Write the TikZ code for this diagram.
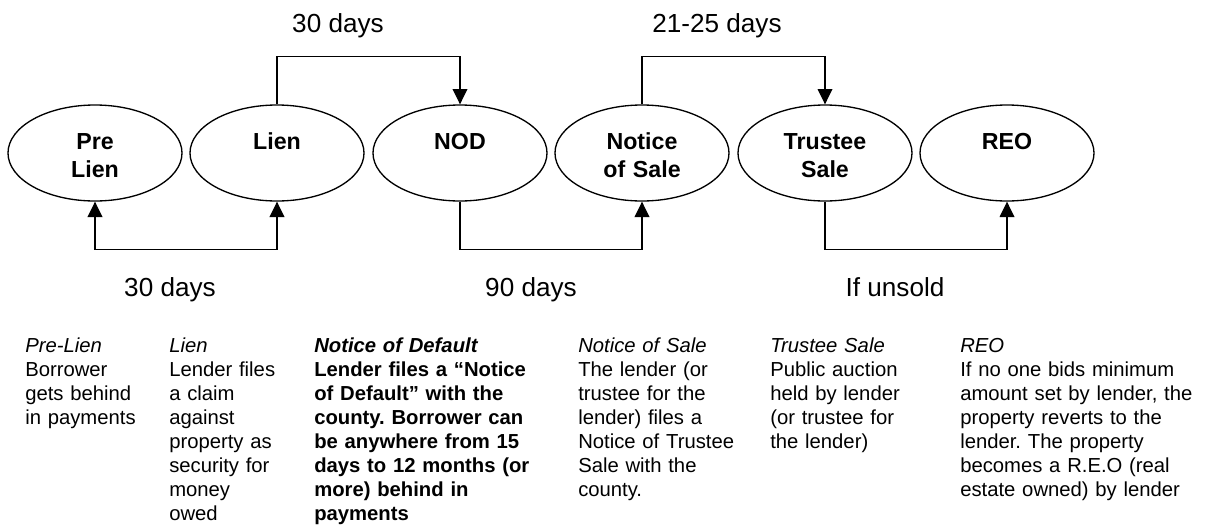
\documentclass[tikz,border=0pt]{standalone}
\usepackage{fontspec}
\setmainfont{Liberation Sans}
\usetikzlibrary{shapes.geometric,arrows.meta}
\frenchspacing

\begin{document}
\begin{tikzpicture}[x=0.75pt,y=-0.75pt,
  stage/.style={draw, line width=1pt, ellipse, minimum width=130.5pt,
    minimum height=72pt, inner sep=0pt},
  stagetext/.style={font=\fontsize{17.4}{21}\selectfont\bfseries,
    text width=120pt, align=center, anchor=base, inner sep=0pt},
  flow/.style={line width=1pt, -{Triangle[length=11.5pt,width=11pt]}},
  flowboth/.style={line width=1pt, {Triangle[length=11.5pt,width=11pt]}-{Triangle[length=11.5pt,width=11pt]}},
  gap/.style={font=\fontsize{19.6}{23}\selectfont, anchor=base, inner sep=0pt},
  desc/.style={font=\fontsize{15.2}{18}\selectfont, text width=200pt,
    align=left, anchor=base west, inner sep=0pt}]

\useasboundingbox (0,0) rectangle (1210,529);

% stages of the foreclosure process
\node[stage] (pre)  at (95,153)   {};
\node[stage] (lien) at (277,153)  {};
\node[stage] (nod)  at (460,153)  {};
\node[stage] (nos)  at (642,153)  {};
\node[stage] (ts)   at (825,153)  {};
\node[stage] (reo)  at (1007,153) {};

\node[stagetext] (pre-t)  at (95,149)   {Pre\\Lien};
\node[stagetext] (lien-t) at (277,149)  {Lien};
\node[stagetext] (nod-t)  at (460,149)  {NOD};
\node[stagetext] (nos-t)  at (642,149)  {Notice\\of Sale};
\node[stagetext] (ts-t)   at (825,149)  {Trustee\\Sale};
\node[stagetext] (reo-t)  at (1007,149) {REO};

% time between stages
\draw[flow] (lien.north) -- ++(0,-48) -| (nod.north);
\draw[flow] (nos.north) -- ++(0,-48) -| (ts.north);
\draw[flowboth] (pre.south) -- ++(0,48) -| (lien.south);
\draw[flow] (nod.south) -- ++(0,48) -| (nos.south);
\draw[flow] (ts.south) -- ++(0,48) -| (reo.south);

\node[gap] (g1) at (338,32)  {30 days};
\node[gap] (g2) at (717,32)  {21-25 days};
\node[gap] (g3) at (170,296) {30 days};
\node[gap] (g4) at (531,296) {90 days};
\node[gap] (g5) at (895,296) {If unsold};

% descriptions of each stage
\node[desc] (d-pre) at (25,352) {\textit{Pre-Lien}\\Borrower\\gets behind\\in payments};
\node[desc] (d-lien) at (169,352) {\textit{Lien}\\Lender files\\a claim\\against\\property as\\security for\\money\\owed};
\node[desc] (d-nod) at (314,352) {\textbf{\textit{Notice of Default}}\\\textbf{Lender files a “Notice}\\\textbf{of Default” with the}\\\textbf{county. Borrower can}\\\textbf{be anywhere from 15}\\\textbf{days to 12 months (or}\\\textbf{more) behind in}\\\textbf{payments}};
\node[desc] (d-nos) at (578,352) {\textit{Notice of Sale}\\The lender (or\\trustee for the\\lender) files a\\Notice of Trustee\\Sale with the\\county.};
\node[desc] (d-ts) at (770,352) {\textit{Trustee Sale}\\Public auction\\held by lender\\(or trustee for\\the lender)};
\node[desc] (d-reo) at (960,352) {\textit{REO}\\If no one bids minimum\\amount set by lender, the\\property reverts to the\\lender. The property\\becomes a R.E.O (real\\estate owned) by lender};
\end{tikzpicture}
\end{document}
